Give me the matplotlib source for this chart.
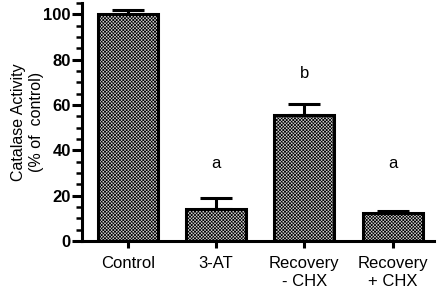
import matplotlib
matplotlib.use("Agg")
import matplotlib.pyplot as plt
from matplotlib.ticker import MultipleLocator

categories = ["Control", "3-AT", "Recovery\n- CHX", "Recovery\n+ CHX"]
values = [100.0, 14.2, 55.5, 12.4]
errors = [2.0, 4.8, 4.9, 0.8]
letters = ["", "a", "b", "a"]
letter_y = [None, 34, 74, 34]

plt.rcParams['font.family'] = ['Liberation Sans', 'DejaVu Sans']
plt.rcParams['hatch.color'] = '#3a3a3a'
plt.rcParams['hatch.linewidth'] = 0.5

fig = plt.figure(figsize=(4.43, 2.94), dpi=100)
ax = fig.add_axes([0.185, 0.180, 0.795, 0.810])

x = list(range(len(categories)))
ax.bar(x, values, width=0.68, facecolor='#d0d0d0', edgecolor='black',
       linewidth=2.2, hatch='xxxxxxxxxx', zorder=2)
ax.errorbar(x, values, yerr=[[0]*len(errors), errors], fmt='none',
            ecolor='black', elinewidth=2.2, capsize=11.5, capthick=2.2, zorder=1)

for xi, lt, ly in zip(x, letters, letter_y):
    if lt:
        ax.text(xi, ly, lt, ha='center', va='center', fontsize=12)

ax.set_xlim(-0.52, 3.47)
ax.set_ylim(0, 105)
ax.yaxis.set_major_locator(MultipleLocator(20))
ax.yaxis.set_minor_locator(MultipleLocator(5))
ax.set_xticks(x)
ax.set_xticklabels(categories, fontsize=12, linespacing=1.2)
ax.tick_params(axis='y', which='major', labelsize=12, width=2.2, length=7, direction='out', pad=1)
ax.tick_params(axis='y', which='minor', width=1.8, length=4, direction='out')
ax.tick_params(axis='x', which='major', width=2.2, length=5, direction='out', pad=6)
for lbl in ax.get_yticklabels():
    lbl.set_fontweight('bold')

for s in ['top', 'right']:
    ax.spines[s].set_visible(False)
for s in ['left', 'bottom']:
    ax.spines[s].set_linewidth(2.2)

ax.set_ylabel("Catalase Activity\n(% of  control)", fontsize=11.5, linespacing=1.25)
ax.yaxis.set_label_coords(-0.108, 0.5)

fig.savefig("out.png", dpi=100)
